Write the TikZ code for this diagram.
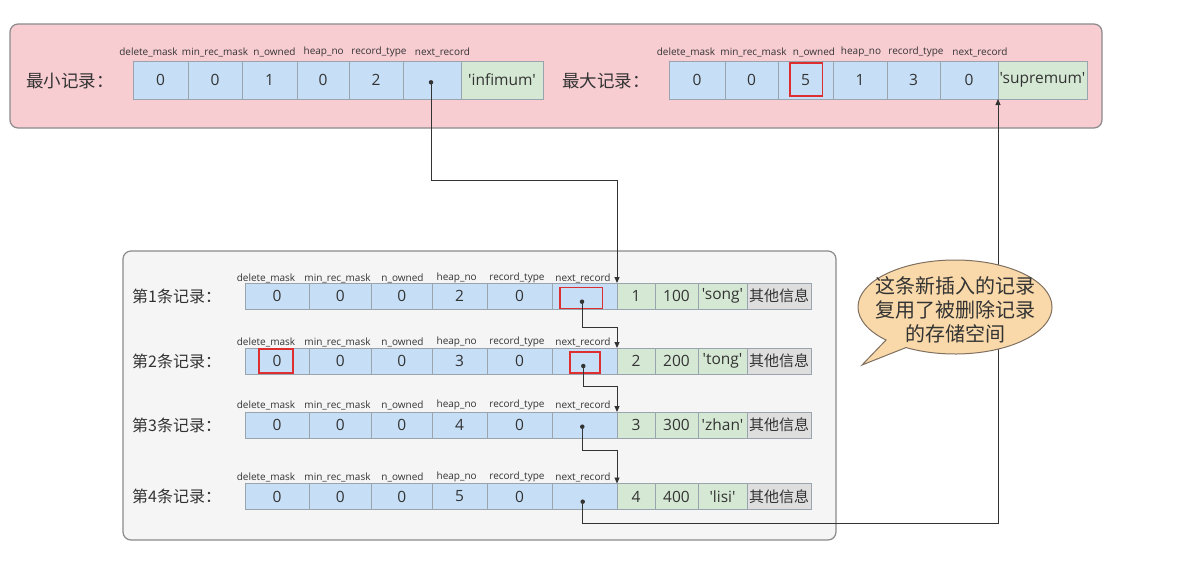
\documentclass[tikz,border=0pt]{standalone}
\usepackage{fontspec}
\setmainfont{Open Sans}[Ligatures=TeXOff]
\newfontfamily\cjk{Noto Sans CJK SC}
\usetikzlibrary{shapes.callouts,arrows.meta}
\definecolor{pinkbg}{HTML}{F8CDD2}
\definecolor{boxline}{HTML}{8A8A8A}
\definecolor{graybg}{HTML}{F5F5F5}
\definecolor{bluec}{HTML}{C6DFF7}
\definecolor{greenc}{HTML}{D5E8D4}
\definecolor{grayc}{HTML}{DEDEDE}
\definecolor{cellline}{HTML}{9AA4AE}
\definecolor{txt}{HTML}{333333}
\definecolor{redb}{HTML}{DD2F2F}
\definecolor{peach}{HTML}{F9D9A9}
\definecolor{peachline}{HTML}{7F7060}
\begin{document}
\begin{tikzpicture}[x=1pt,y=-1pt,
  cell/.style={draw=cellline, line width=0.8pt, inner sep=0pt, outer sep=0pt, text=txt, font=\fontsize{15.5}{17}\selectfont},
  bcell/.style={cell, fill=bluec},
  gcell/.style={cell, fill=greenc},
  ocell/.style={cell, fill=grayc, font=\cjk\fontsize{15}{16}\selectfont},
  flabel/.style={text=txt, font=\fontsize{10}{11}\selectfont, inner sep=0pt},
  rlabel/.style={text=txt, anchor=west, inner sep=0pt},
  hlbox/.style={draw=redb, line width=1.6pt, inner sep=0pt},
  ptr/.style={circle, fill=txt, inner sep=0pt, minimum size=4.5pt},
  conn/.style={draw=txt, line width=0.9pt, -{Triangle[length=6pt,width=5pt]}},
]
\useasboundingbox (0,0) rectangle (1178,576);
\fill[white] (0,0) rectangle (1178,576);
\draw[boxline, fill=pinkbg, line width=1.2pt, rounded corners=8pt] (10,24) rectangle (1102,128);
\draw[boxline, fill=graybg, line width=1.2pt, rounded corners=8pt] (123,251) rectangle (836,540);

% ---- minimum record
\node[rlabel, font=\cjk\fontsize{17.5}{19}\selectfont] (minlab) at (26,81) {最小记录：};
\foreach \a/\b/\t [count=\i] in {133/188/0,188/242/0,242/297/1,297/349/0,349/403/2,403/461/{}}
  \node[bcell, minimum width={(\b-\a)*1pt}, minimum height=38pt] (L\i) at ({(\a+\b)/2},80) {\t};
\node[gcell, minimum width=82pt, minimum height=38pt] (L7) at (502,80) {'infimum'};
\foreach \c/\t [count=\i] in {148.5/delete\_mask,215/min\_rec\_mask,274.5/n\_owned,323.7/heap\_no,379/record\_type,442.5/next\_record}
  \node[flabel] (Lt\i) at (\c,52) {\t};

% ---- maximum record
\node[rlabel, font=\cjk\fontsize{17.5}{19}\selectfont] (maxlab) at (562,81) {最大记录：};
\foreach \a/\b/\t [count=\i] in {669/725/0,725/778/0,778/833/5,833/887/1,887/940/3,940/998/0}
  \node[bcell, minimum width={(\b-\a)*1pt}, minimum height=38pt] (R\i) at ({(\a+\b)/2},80) {\t};
\node[gcell, minimum width=89pt, minimum height=38pt] (R7) at (1042.5,80) {'supremum'};
\foreach \c/\t [count=\i] in {686/delete\_mask,753.5/min\_rec\_mask,814/n\_owned,861/heap\_no,916/record\_type,980/next\_record}
  \node[flabel] (Rt\i) at (\c,52) {\t};
\node[hlbox, minimum width=32.5pt, minimum height=32.5pt] (Rh) at (806.3,79.5) {};

% ---- user records
\foreach \r/\yc/\ly/\h/\nm in {1/296/278/2/'song',2/361/342/3/'tong',3/425/405/4/'zhan',4/496.5/477/5/'lisi'}{
  \node[rlabel, font=\cjk\fontsize{16}{18}\selectfont] (lab\r) at (132,\yc) {第\r 条记录：};
  \foreach \a/\b/\t [count=\i] in {245/309/0,309/371.5/0,371.5/432/0,432/487/\h,487/552/0,552/617/{}}
    \node[bcell, minimum width={(\b-\a)*1pt}, minimum height=26pt] (r\r x\i) at ({(\a+\b)/2},\yc) {\t};
  \node[gcell, minimum width=38pt, minimum height=26pt] (r\r x7) at (636,\yc) {\r};
  \node[gcell, minimum width=43pt, minimum height=26pt] (r\r x8) at (676.5,\yc) {\r00};
  \node[gcell, minimum width=49pt, minimum height=26pt] (r\r x9) at (722.5,\yc) {\nm};
  \node[ocell, minimum width=64pt, minimum height=26pt] (r\r x10) at (779,\yc) {其他信息};
  \foreach \c/\t [count=\i] in {266/delete\_mask,337.5/min\_rec\_mask,402.5/n\_owned,456.7/heap\_no,517/record\_type,583/next\_record}
    \node[flabel] (r\r t\i) at (\c,\ly) {\t};
}

% ---- highlighted cells
\node[hlbox, minimum width=42.5pt, minimum height=21pt] (h1) at (581.3,297.8) {};
\node[hlbox, minimum width=33.5pt, minimum height=23.7pt] (h2) at (276,360.9) {};
\node[hlbox, minimum width=30.5pt, minimum height=21pt] (h3) at (585,362.2) {};

% ---- pointers
\node[ptr] (d0) at (431,82.3) {};
\node[ptr] (d1) at (582,301.7) {};
\node[ptr] (d2) at (583.3,366) {};
\node[ptr] (d3) at (582.3,426.7) {};
\node[ptr] (d4) at (582.7,501.7) {};

\draw[conn] (d0.center) -- ++(0,97.7) -| (r1x7.north west);
\draw[conn] (d1.center) -- ++(0,25.5) -| (r2x7.north west);
\draw[conn] (d2.center) -- ++(0,20.5) -| (r3x7.north west);
\draw[conn] (d3.center) -- ++(0,24) -| (r4x7.north west);
\draw[conn] (d4.center) -- ++(0,22) -| (R7.south west);

% ---- callout
\node[ellipse callout, draw=peachline, fill=peach, line width=1pt, minimum width=194pt, minimum height=94pt, inner sep=0pt, callout absolute pointer={(862,365)}] (note) at (955,307) {};
\node[align=center, text=txt, font=\cjk\fontsize{20}{24}\selectfont, inner sep=0pt] (notetext) at (955,310) {这条新插入的记录\\复用了被删除记录\\的存储空间};
\end{tikzpicture}
\end{document}
